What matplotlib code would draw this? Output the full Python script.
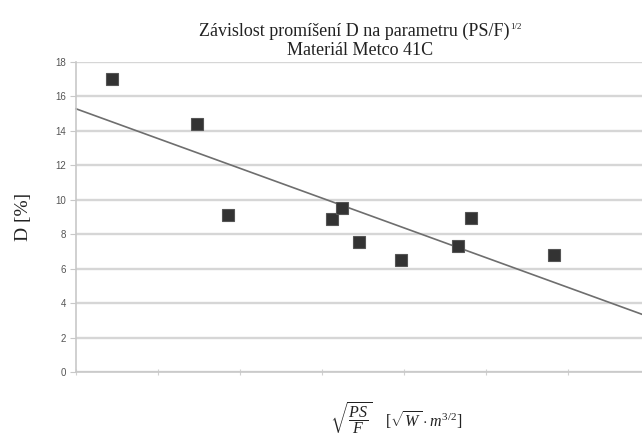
import numpy as np
import matplotlib
matplotlib.use("Agg")
import matplotlib.pyplot as plt

# Measured points: sqrt(PS/F) parameter (axis units) vs. dilution D [%]
param = [0.436, 1.473, 1.851, 3.124, 3.250, 3.457, 3.962, 4.665, 4.816, 5.837]
dilution = [17.0, 14.4, 9.1, 8.85, 9.5, 7.53, 6.5, 7.33, 8.95, 6.79]

y_ticks = [0, 2, 4, 6, 8, 10, 12, 14, 16, 18]
x_ticks = [0, 1, 2, 3, 4, 5, 6]

title_line1 = "Závislost promíšení D na parametru (PS/F)"
title_exponent = "1/2"
title_line2 = "Materiál Metco 41C"
y_label = "D [%]"
x_label = r"$\sqrt{\dfrac{PS}{F}}$   $[\sqrt{W}\cdot m^{3/2}]$"

plt.rcParams["mathtext.fontset"] = "custom"
plt.rcParams["mathtext.rm"] = "Liberation Serif"
plt.rcParams["mathtext.it"] = "Liberation Serif:italic"
plt.rcParams["mathtext.bf"] = "Liberation Serif:bold"

W, H = 642, 446
fig = plt.figure(figsize=(W / 100, H / 100), dpi=100)
fig.patch.set_facecolor("white")

left, right, bottom, top = 76, 642, 372, 61.7
ax = fig.add_axes([left / W, (H - bottom) / H, (right - left) / W, (bottom - top) / H])

x_max = (right - left) / 81.95
ax.set_xlim(0, x_max)
ax.set_ylim(0, 18)

# Gridlines
ax.set_yticks(y_ticks)
ax.set_yticklabels([str(v) for v in y_ticks], fontfamily="Liberation Sans",
                   fontsize=7, color="#555555")
ax.yaxis.grid(True, color="#d6d6d6", linewidth=1.7)
ax.set_axisbelow(True)
ax.set_xticks(x_ticks)
ax.set_xticklabels([])
ax.tick_params(axis="y", length=4, width=0.8, color="#c8c8c8", pad=3)
ax.tick_params(axis="x", length=4, width=0.8, color="#d0d0d0", direction="inout")

for side in ("top", "right"):
    ax.spines[side].set_visible(False)
for side in ("left", "bottom"):
    ax.spines[side].set_color("#c8c8c8")
    ax.spines[side].set_linewidth(1.2)

# Linear trend line fitted through the measurements
k, q = np.polyfit(param, dilution, 1)
xs = np.array([0, x_max])
ax.plot(xs, k * xs + q, color="#6e6e6e", linewidth=1.2, zorder=2, clip_on=False)

ax.plot(param, dilution, linestyle="none", marker="s", markersize=8.3,
        markerfacecolor="#333333", markeredgecolor="#555555",
        markeredgewidth=0.8, zorder=3)

# Title: first line with a small raised exponent
renderer = fig.canvas.get_renderer()
t1 = fig.text(0, 1 - 36 / H, title_line1, ha="left", va="baseline",
              fontfamily="Liberation Serif", fontsize=13, color="#222222")
sup = fig.text(0, 1 - 42 / H, title_exponent, ha="left", va="baseline",
               fontfamily="Liberation Serif", fontsize=6.5, color="#222222")
w1 = t1.get_window_extent(renderer).width
ws = sup.get_window_extent(renderer).width
x0 = 360 - (w1 + 1 + ws) / 2
t1.set_x(x0 / W)
sup.set_x((x0 + w1 + 1) / W)
sup.set_y(1 - 29 / H)

fig.text(360 / W, 1 - 55 / H, title_line2, ha="center", va="baseline",
         fontfamily="Liberation Serif", fontsize=13, color="#222222")

# Axis labels
fig.text(24 / W, 1 - 217 / H, y_label, ha="center", va="center", rotation=90,
         fontfamily="Liberation Serif", fontsize=14, color="#222222")
fig.text(396 / W, 1 - 419 / H, x_label, ha="center", va="center",
         fontsize=11.5, color="#222222")

fig.savefig("out.png", dpi=100, facecolor="white")
